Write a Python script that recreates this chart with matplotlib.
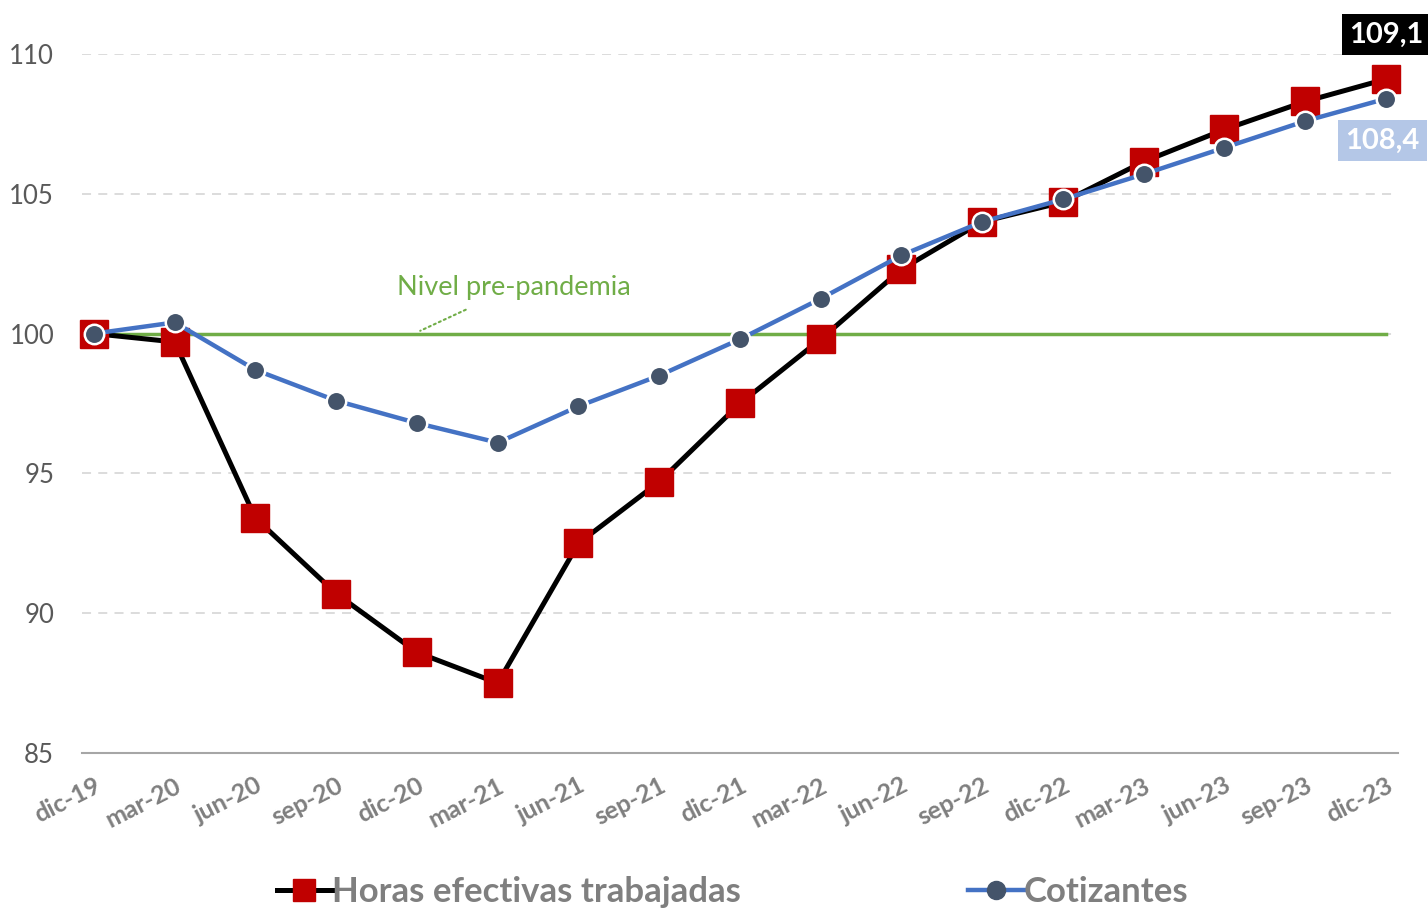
import numpy as np
import matplotlib
matplotlib.use("Agg")
import matplotlib.pyplot as plt
from matplotlib.lines import Line2D

plt.rcParams['font.family'] = ['Lato', 'DejaVu Sans']

periodos = ["dic-19", "mar-20", "jun-20", "sep-20", "dic-20", "mar-21", "jun-21",
            "sep-21", "dic-21", "mar-22", "jun-22", "sep-22", "dic-22", "mar-23",
            "jun-23", "sep-23", "dic-23"]
horas = [100, 99.7, 93.4, 90.7, 88.6, 87.5, 92.5, 94.7, 97.5, 99.8, 102.3,
         104.0, 104.7, 106.15, 107.3, 108.3, 109.1]
cotizantes = [100, 100.4, 98.7, 97.6, 96.8, 96.1, 97.4, 98.5, 99.8, 101.25,
              102.8, 104.0, 104.8, 105.7, 106.65, 107.6, 108.4]
nivel = 100
yticks = [85, 90, 95, 100, 105, 110]

x = np.arange(len(periodos))

fig = plt.figure(figsize=(14.28, 9.10), dpi=100)
ax = fig.add_axes([0.0574, 0.1725, 0.9216, 0.7682])

for y in yticks[1:]:
    ax.axhline(y, color="#D9D9D9", lw=1.3, ls=(0, (5, 4)), zorder=0)

ax.plot([x[0], x[-1]], [nivel, nivel], color="#70AD47", lw=2.5, zorder=1)

ax.plot(x, horas, color="black", lw=3.6, marker="s", ms=20, mfc="#C00000",
        mec="#C00000", zorder=3, clip_on=False)
ax.plot(x, cotizantes, color="#4472C4", lw=3.2, marker="o", ms=14, mfc="#44546A",
        mec="white", mew=1.8, zorder=4, clip_on=False)

ax.annotate("Nivel pre-pandemia", xy=(4.04, 100.1), xytext=(5.2, 101.65),
            color="#70AD47", fontsize=19.5, ha="center", va="center",
            arrowprops=dict(arrowstyle="-", color="#70AD47", lw=1.5, ls=":",
                            shrinkA=12, shrinkB=0))

ax.text(x[-1], 110.7, "109,1", color="white", fontsize=21, fontweight="bold",
        ha="center", va="center",
        bbox=dict(boxstyle="square,pad=0.25", fc="black", ec="none"))
ax.text(x[-1] - 0.04, 106.9, "108,4", color="white", fontsize=21, fontweight="bold",
        ha="center", va="center",
        bbox=dict(boxstyle="square,pad=0.25", fc="#B4C7E7", ec="none"))

ax.set_xlim(-0.149, 16.149)
ax.set_ylim(85, 110)
ax.set_yticks(yticks)
ax.set_xticks(x)
ax.set_xticklabels(periodos, rotation=27, ha="right", rotation_mode="anchor",
                   fontsize=18, fontweight="bold", color="#7F7F7F")
ax.tick_params(axis="y", labelsize=18.5, labelcolor="#595959", length=0, pad=20)
ax.tick_params(axis="x", length=0, pad=15)
for s in ["top", "right", "left"]:
    ax.spines[s].set_visible(False)
ax.spines["bottom"].set_color("#A6A6A6")
ax.spines["bottom"].set_linewidth(1.5)

h1 = Line2D([], [], color="black", lw=3.6, marker="s", ms=16, mfc="#C00000", mec="#C00000")
h2 = Line2D([], [], color="#4472C4", lw=3.2, marker="o", ms=13, mfc="#44546A", mec="#44546A")
leg = fig.legend([h1, h2], ["Horas efectivas trabajadas", "Cotizantes"],
                 loc="center", bbox_to_anchor=(0.513, 0.02), ncol=2, frameon=False,
                 handlelength=1.6, handletextpad=0.0, columnspacing=6.55,
                 prop=dict(size=25, weight="bold"))
for t in leg.get_texts():
    t.set_color("#7F7F7F")

fig.savefig("out.png", dpi=100)
